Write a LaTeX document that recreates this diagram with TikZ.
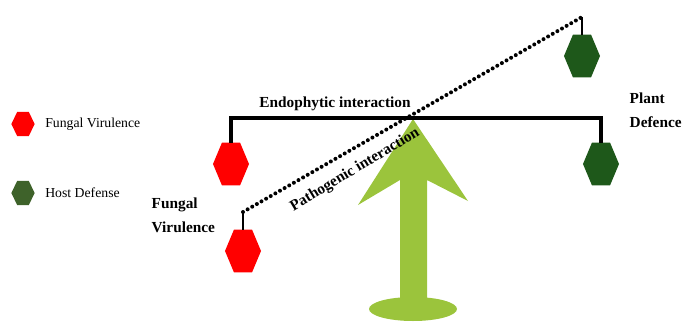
\documentclass[tikz,border=0pt]{standalone}
\usepackage{fontspec}
\setmainfont{Liberation Serif}
\usetikzlibrary{positioning, shapes.geometric}

\definecolor{fvred}{RGB}{255,0,0}
\definecolor{pdgreen}{RGB}{30,88,26}
\definecolor{hdgreen}{RGB}{62,98,42}
\definecolor{armgreen}{RGB}{155,196,60}

\tikzset{
  hexa/.style={regular polygon, regular polygon sides=6, inner sep=0pt, outer sep=0pt},
  legtext/.style={font=\fontsize{10.3}{12}\selectfont},
  boldtext/.style={font=\fontsize{11.5}{18}\selectfont\bfseries},
  dotbeam/.style={line width=3pt, line cap=round, dash pattern=on 0pt off 4pt}
}

\begin{document}
\begin{tikzpicture}[x=0.75pt, y=-0.75pt]
\useasboundingbox (0,0) rectangle (683,322);

% green arrow
\fill[armgreen] (413,309) ellipse (44 and 12);
\fill[armgreen] (413,119) -- (468,201) -- (427,180) -- (427,306) -- (400,306) -- (400,180) -- (358,205) -- cycle;

% legend
\node[hexa, fill=fvred, minimum size=21pt, xscale=0.83] (fvleg) at (23,124) {};
\node[hexa, fill=hdgreen, minimum size=21pt, xscale=0.83] (hdleg) at (23,193) {};
\node[legtext, right=4.5pt of fvleg] (fvlegtxt) {Fungal Virulence};
\node[legtext, right=4.5pt of hdleg] (hdlegtxt) {Host Defense};

% hexagons on the beams
\node[hexa, fill=fvred, minimum size=37.2pt, xscale=0.726] (endoFV) at (231,164) {};
\node[hexa, fill=pdgreen, minimum size=37.2pt, xscale=0.726] (endoPD) at (601,164) {};
\node[hexa, fill=fvred, minimum size=37.2pt, xscale=0.726] (pathoFV) at (243,251) {};
\node[hexa, fill=pdgreen, minimum size=37.2pt, xscale=0.726] (pathoPD) at (582,56) {};

\coordinate (endoL) at (231,118);
\coordinate (endoR) at (601,118);
\coordinate (pathoL) at (243,212);
\coordinate (pathoR) at (582,17);

% balance beams
\draw[line width=2.4pt] (endoFV.north) -- (endoL) -- (endoR) -- (endoPD.north);
\draw[line width=1.6pt] (pathoFV.north) -- (pathoL);
\draw[line width=1.6pt] (pathoPD.north) -- (pathoR);
\draw[dotbeam] (pathoL) -- (pathoR);

% labels
\node[boldtext] (endolbl) at (335,104) {Endophytic interaction};
\node[boldtext, rotate=31, inner sep=0pt] (patholbl) at (355,170) {Pathogenic interaction};
\node[boldtext, align=left, anchor=west] (fvlbl) at (147,215) {Fungal\\Virulence};
\node[boldtext, align=left, anchor=west] (pdlbl) at (625,110) {Plant\\Defence};
\end{tikzpicture}
\end{document}
